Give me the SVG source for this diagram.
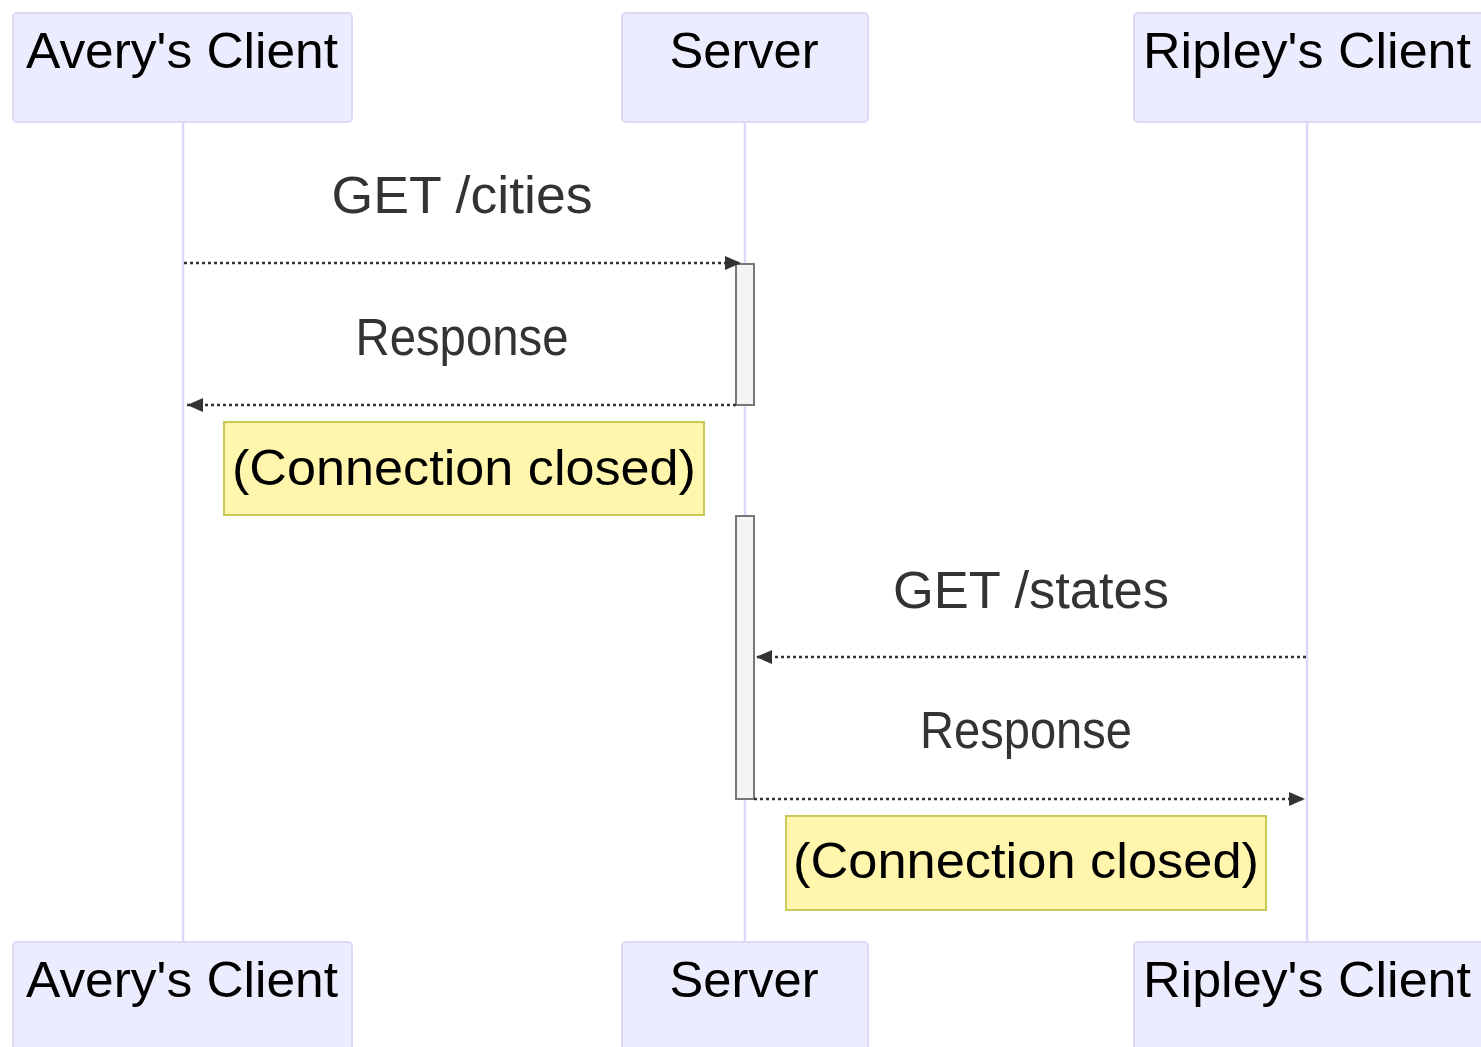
<svg xmlns="http://www.w3.org/2000/svg" width="1481" height="1047" viewBox="0 0 1481 1047">
<style>
.actor{fill:#ececff;stroke:#dcdaf7;stroke-width:2}
.atext{font-family:"Liberation Sans",Arial,sans-serif;font-size:50px;fill:#000;text-anchor:middle}
.life{stroke:#ddd8f6;stroke-width:2.5;fill:none}
.act{fill:#f4f4f4;stroke:#777;stroke-width:2}
.msg{stroke:#333;stroke-width:2.5;stroke-dasharray:3,3;fill:none}
.mtext{font-family:"Liberation Sans",Arial,sans-serif;font-size:51px;fill:#333;text-anchor:middle}
.note{fill:#fff5ad;stroke:#c9c95a;stroke-width:2}
.ntext{font-family:"Liberation Sans",Arial,sans-serif;font-size:50px;fill:#000;text-anchor:middle}
</style>
<defs>
<marker id="arrow" viewBox="0 0 10 10" refX="10" refY="5" markerWidth="6" markerHeight="6" markerUnits="userSpaceOnUse" orient="auto-start-reverse">
<path d="M0,0 L10,5 L0,10 z" fill="#333"/>
</marker>
<marker id="arr" viewBox="0 0 16 14" refX="16" refY="7" markerWidth="16" markerHeight="14" markerUnits="userSpaceOnUse" orient="auto">
<path d="M0,0 L16,7 L0,14 z" fill="#333"/>
</marker>
</defs>
<rect width="1481" height="1047" fill="#fff"/>
<g id="lifelines">
<line class="life" x1="183" y1="122" x2="183" y2="942"/>
<line class="life" x1="745" y1="122" x2="745" y2="942"/>
<line class="life" x1="1307" y1="122" x2="1307" y2="942"/>
</g>
<g id="actor-avery-top"><rect class="actor" x="13" y="13" width="339" height="109" rx="4"/><text class="atext" x="182" y="68" textLength="312" lengthAdjust="spacingAndGlyphs">Avery's Client</text></g>
<g id="actor-server-top"><rect class="actor" x="622" y="13" width="246" height="109" rx="4"/><text class="atext" x="744" y="68" textLength="149" lengthAdjust="spacingAndGlyphs">Server</text></g>
<g id="actor-ripley-top"><rect class="actor" x="1134" y="13" width="350" height="109" rx="4"/><text class="atext" x="1307" y="68" textLength="328" lengthAdjust="spacingAndGlyphs">Ripley's Client</text></g>
<g id="actor-avery-bottom"><rect class="actor" x="13" y="942" width="339" height="115" rx="4"/><text class="atext" x="182" y="997" textLength="312" lengthAdjust="spacingAndGlyphs">Avery's Client</text></g>
<g id="actor-server-bottom"><rect class="actor" x="622" y="942" width="246" height="115" rx="4"/><text class="atext" x="744" y="997" textLength="149" lengthAdjust="spacingAndGlyphs">Server</text></g>
<g id="actor-ripley-bottom"><rect class="actor" x="1134" y="942" width="350" height="115" rx="4"/><text class="atext" x="1307" y="997" textLength="328" lengthAdjust="spacingAndGlyphs">Ripley's Client</text></g>
<g id="activation-1"><rect class="act" x="736" y="264" width="18" height="141"/></g>
<g id="activation-2"><rect class="act" x="736" y="516" width="18" height="283"/></g>
<g id="connectors">
<line class="msg" x1="184" y1="263" x2="741" y2="263" marker-end="url(#arr)"/>
<text class="mtext" x="462" y="213" textLength="261" lengthAdjust="spacingAndGlyphs">GET /cities</text>
<line class="msg" x1="736" y1="405" x2="187" y2="405" marker-end="url(#arr)"/>
<text class="mtext" x="462" y="355" textLength="213" lengthAdjust="spacingAndGlyphs">Response</text>
<line class="msg" x1="1306" y1="657" x2="756" y2="657" marker-end="url(#arr)"/>
<text class="mtext" x="1031" y="608" textLength="276" lengthAdjust="spacingAndGlyphs">GET /states</text>
<line class="msg" x1="754" y1="799" x2="1305" y2="799" marker-end="url(#arr)"/>
<text class="mtext" x="1026" y="748" textLength="212" lengthAdjust="spacingAndGlyphs">Response</text>
</g>
<g id="note-1"><rect class="note" x="224" y="422" width="480" height="93"/><text class="ntext" x="464" y="485" textLength="464" lengthAdjust="spacingAndGlyphs">(Connection closed)</text></g>
<g id="note-2"><rect class="note" x="786" y="816" width="480" height="94"/><text class="ntext" x="1026" y="878" textLength="466" lengthAdjust="spacingAndGlyphs">(Connection closed)</text></g>
</svg>
